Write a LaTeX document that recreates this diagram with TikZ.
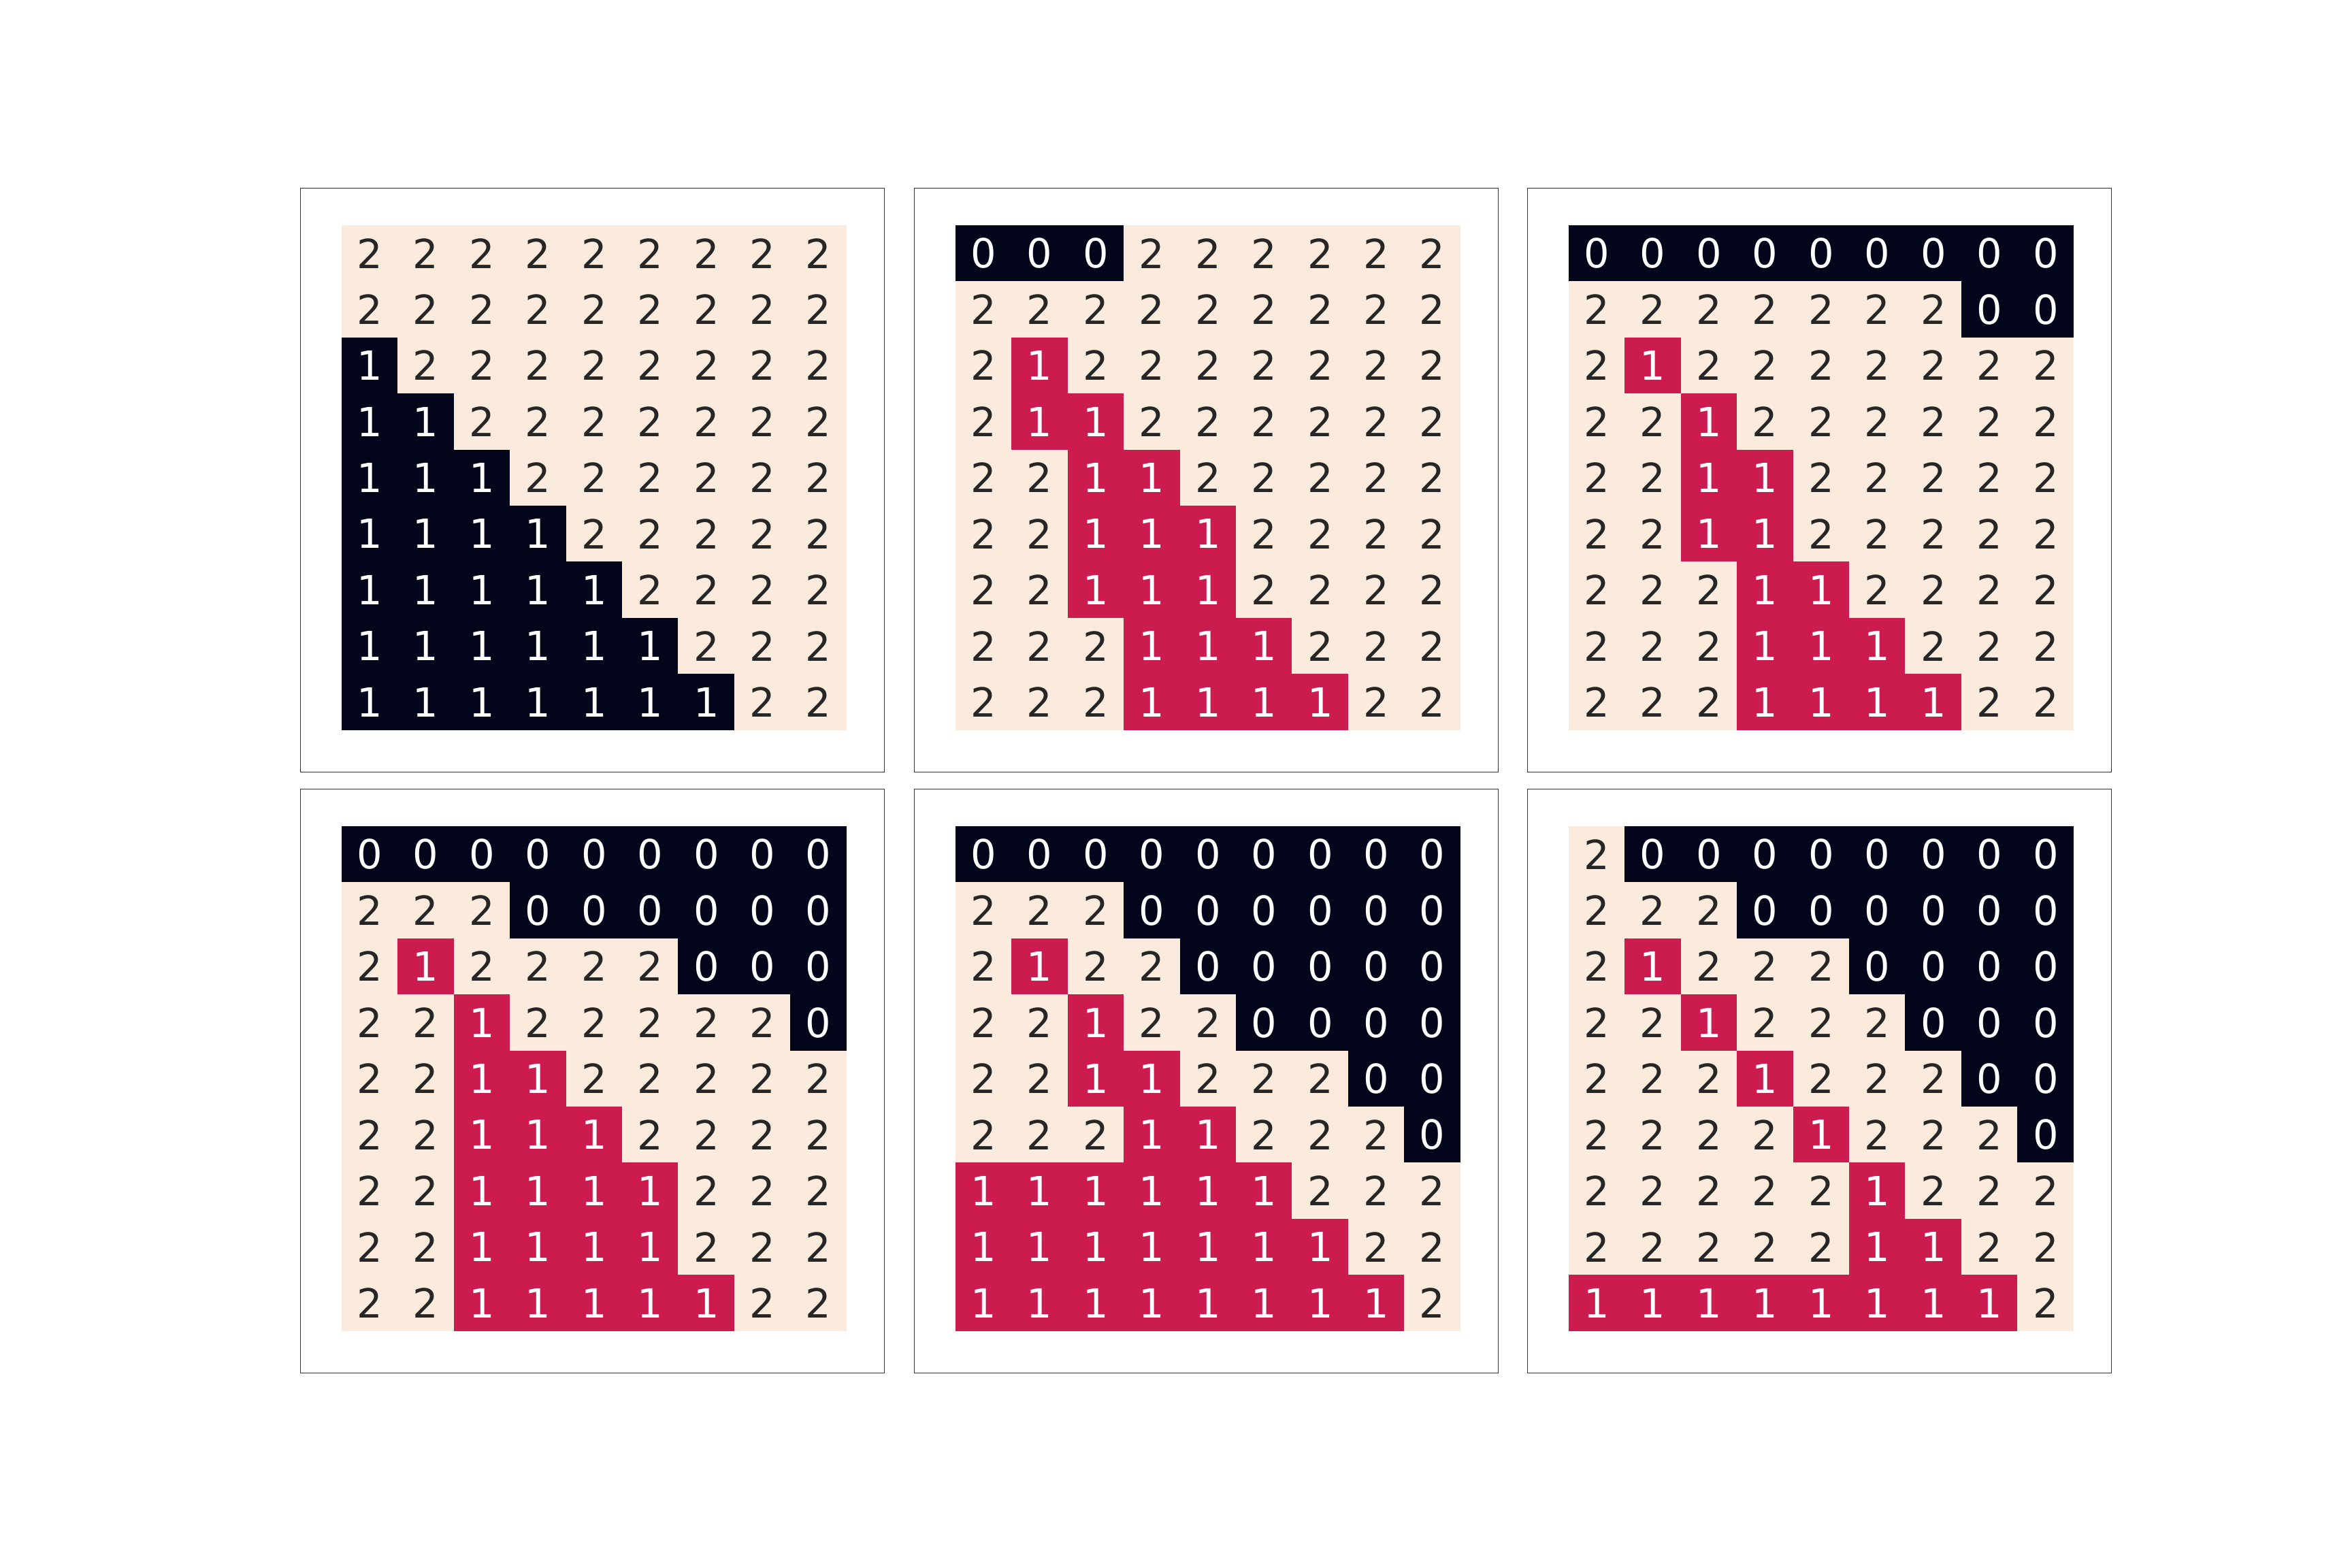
\documentclass[tikz,border=0pt]{standalone}
\usepackage{fontspec}
\setmainfont{DejaVu Sans}
\definecolor{heat0}{HTML}{03051A}
\definecolor{heat1}{HTML}{CB1B4F}
\definecolor{heat2}{HTML}{FAEBDD}
\definecolor{low1}{HTML}{03051A}
\definecolor{low2}{HTML}{FAEBDD}
\definecolor{inkheat0}{HTML}{FFFFFF}
\definecolor{inkheat1}{HTML}{FFFFFF}
\definecolor{inkheat2}{HTML}{262626}
\definecolor{inklow1}{HTML}{FFFFFF}
\definecolor{inklow2}{HTML}{262626}
\definecolor{framegrey}{HTML}{333333}
\tikzset{
  panel/.style={
    draw=framegrey,
    line width=0.3pt,
    minimum size=8.58cm,
    inner sep=0pt,
    anchor=north west
  },
  cell/.style={
    minimum size=0.8284cm,
    inner sep=0pt,
    outer sep=0pt,
    font=\fontsize{16.8}{20}\selectfont
  }
}
% one heatmap panel: name, left, top, colour set, rows
\newcommand{\heatpanel}[5]{%
  \node[panel] (#1) at (#2,#3) {};
  \foreach \row [count=\r] in {#5} {
    \foreach \v [count=\c] in \row {
      \node[cell, fill=#4\v, text=ink#4\v] (#1-\r-\c)
        at ({#2+0.61+(\c-0.5)*0.8244},{#3-0.55-(\r-0.5)*0.8244}) {\v};
    }
  }
}

\begin{document}
\begin{tikzpicture}
  \fill[white] (0,0) rectangle (34.56,23.04);
  \useasboundingbox (0,0) rectangle (34.56,23.04);

  \heatpanel{pa}{4.41}{20.28}{low}{
    {2,2,2,2,2,2,2,2,2},{2,2,2,2,2,2,2,2,2},{1,2,2,2,2,2,2,2,2},
    {1,1,2,2,2,2,2,2,2},{1,1,1,2,2,2,2,2,2},{1,1,1,1,2,2,2,2,2},
    {1,1,1,1,1,2,2,2,2},{1,1,1,1,1,1,2,2,2},{1,1,1,1,1,1,1,2,2}}
  \heatpanel{pb}{13.43}{20.28}{heat}{
    {0,0,0,2,2,2,2,2,2},{2,2,2,2,2,2,2,2,2},{2,1,2,2,2,2,2,2,2},
    {2,1,1,2,2,2,2,2,2},{2,2,1,1,2,2,2,2,2},{2,2,1,1,1,2,2,2,2},
    {2,2,1,1,1,2,2,2,2},{2,2,2,1,1,1,2,2,2},{2,2,2,1,1,1,1,2,2}}
  \heatpanel{pc}{22.44}{20.28}{heat}{
    {0,0,0,0,0,0,0,0,0},{2,2,2,2,2,2,2,0,0},{2,1,2,2,2,2,2,2,2},
    {2,2,1,2,2,2,2,2,2},{2,2,1,1,2,2,2,2,2},{2,2,1,1,2,2,2,2,2},
    {2,2,2,1,1,2,2,2,2},{2,2,2,1,1,1,2,2,2},{2,2,2,1,1,1,1,2,2}}
  \heatpanel{pd}{4.41}{11.45}{heat}{
    {0,0,0,0,0,0,0,0,0},{2,2,2,0,0,0,0,0,0},{2,1,2,2,2,2,0,0,0},
    {2,2,1,2,2,2,2,2,0},{2,2,1,1,2,2,2,2,2},{2,2,1,1,1,2,2,2,2},
    {2,2,1,1,1,1,2,2,2},{2,2,1,1,1,1,2,2,2},{2,2,1,1,1,1,1,2,2}}
  \heatpanel{pe}{13.43}{11.45}{heat}{
    {0,0,0,0,0,0,0,0,0},{2,2,2,0,0,0,0,0,0},{2,1,2,2,0,0,0,0,0},
    {2,2,1,2,2,0,0,0,0},{2,2,1,1,2,2,2,0,0},{2,2,2,1,1,2,2,2,0},
    {1,1,1,1,1,1,2,2,2},{1,1,1,1,1,1,1,2,2},{1,1,1,1,1,1,1,1,2}}
  \heatpanel{pf}{22.44}{11.45}{heat}{
    {2,0,0,0,0,0,0,0,0},{2,2,2,0,0,0,0,0,0},{2,1,2,2,2,0,0,0,0},
    {2,2,1,2,2,2,0,0,0},{2,2,2,1,2,2,2,0,0},{2,2,2,2,1,2,2,2,0},
    {2,2,2,2,2,1,2,2,2},{2,2,2,2,2,1,1,2,2},{1,1,1,1,1,1,1,1,2}}
\end{tikzpicture}
\end{document}
